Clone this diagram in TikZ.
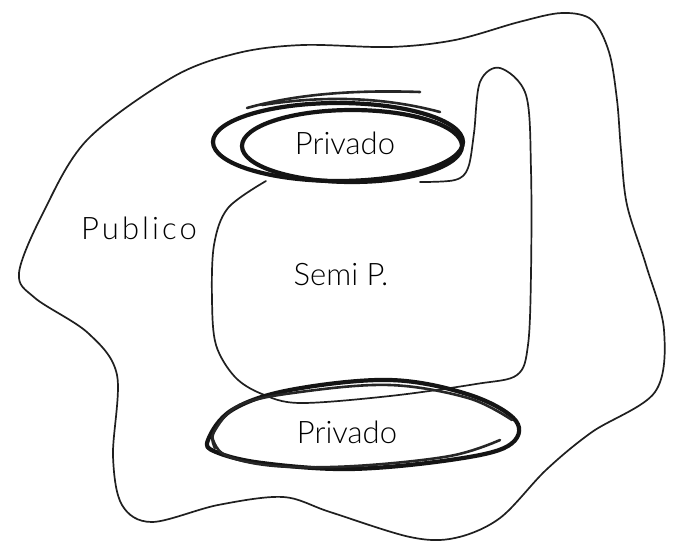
\documentclass[tikz,border=0pt]{standalone}
\usepackage{fontspec}
\newfontfamily\hand{Lato Light}
\begin{document}
\begin{tikzpicture}[x=1pt,y=-1pt,
  thinline/.style={line width=1.7pt, line join=round, line cap=round, draw=black!88},
  marker/.style={line width=4.2pt, line cap=round, line join=round, draw=black!92},
  markerthin/.style={line width=2.6pt, line cap=round, line join=round, draw=black!85},
  lbl/.style={font=\hand\fontsize{31}{33}\selectfont, inner sep=0pt}]
\useasboundingbox (0,0) rectangle (674,546);
\fill[white] (0,0) rectangle (674,546);
% outer blob (Publico)
\draw[thinline] plot[smooth cycle, tension=0.55] coordinates {
 (19,273) (43,213) (87,140) (173,77) (238,53) (303,45) (390,47) (455,40)
 (519,22) (562,13) (592,20) (609,52) (617,100) (621,150) (627,205)
 (646,265) (664,330) (655,392) (592,432) (546,470) (500,518) (455,538)
 (410,537) (330,512) (283,497) (218,505) (152,522) (122,505) (113,456)
 (117,375) (88,333) (35,298)};
% semi private region
\draw[thinline] plot[smooth, tension=0.55] coordinates {
 (266,181) (228,208) (214,245) (212,300) (216,345) (235,377) (262,394)
 (300,403) (390,396) (476,384) (517,375) (528,345) (531,273) (531,170)
 (526,95) (500,68) (480,82) (474,133) (468,168) (455,180) (420,182)};
% upper private
\draw[marker] (338,142) ellipse [x radius=125, y radius=39];
\draw[marker] (352,146) ellipse [x radius=110, y radius=36];
\draw[markerthin] (247,108) .. controls (300,93) and (360,90) .. (420,92);
\draw[markerthin] (262,105) .. controls (320,96) and (380,96) .. (440,112);
% lower private
\draw[marker] plot[smooth cycle, tension=0.6] coordinates {
 (208,440) (232,410) (290,390) (390,380) (470,395) (516,421)
 (508,446) (450,460) (350,469) (262,463) (216,452)};
\draw[markerthin] plot[smooth, tension=0.6] coordinates {
 (215,448) (214,432) (240,405) (300,392) (390,385) (468,398) (512,420)};
\draw[markerthin] plot[smooth, tension=0.6] coordinates {
 (212,436) (225,455) (275,466) (355,466) (450,456) (500,440)};
% labels
\node[lbl] (priv1) at (345,143) {Privado};
\node[lbl] (priv2) at (347,432) {Privado};
\node[lbl] (pub) at (139,228) {\addfontfeature{LetterSpace=10}Publico};
\node[lbl] (semi) at (341,275) {Semi P.};
\end{tikzpicture}
\end{document}
